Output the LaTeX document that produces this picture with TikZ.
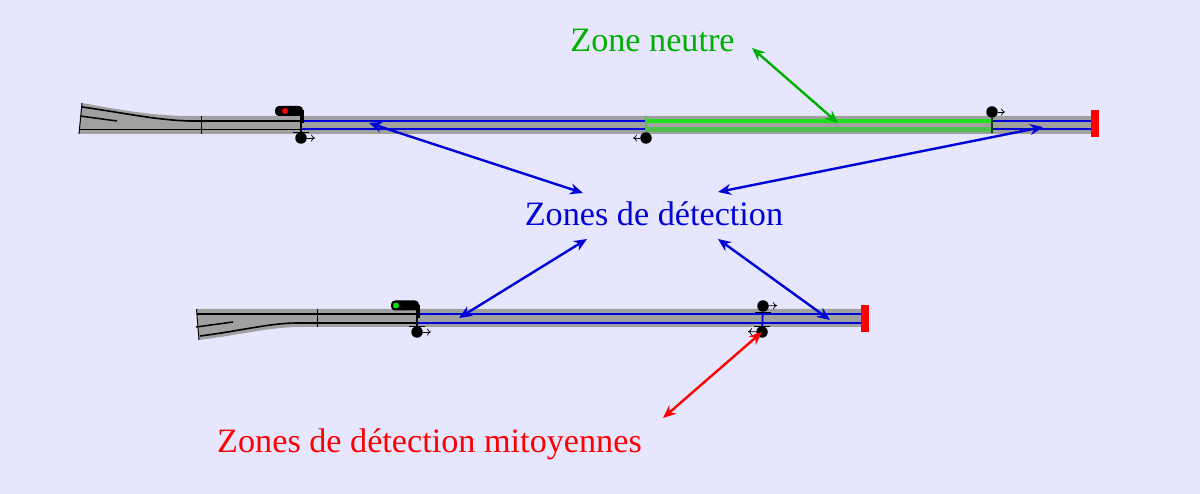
\documentclass[tikz,border=0pt]{standalone}
\usepackage{fontspec}
\setmainfont{Liberation Serif}
\usetikzlibrary{arrows.meta,positioning}
\definecolor{fond}{HTML}{E6E6FF}
\definecolor{ballast}{HTML}{A0A0A0}
\definecolor{vert}{HTML}{00B000}
\definecolor{rail}{HTML}{20E020}
\definecolor{railb}{HTML}{50C050}

\begin{document}
\begin{tikzpicture}[
    x=1pt, y=-1pt,
    label/.style={inner sep=0pt, font=\fontsize{34.2}{40}\selectfont},
    detector/.style={circle, fill=black, inner sep=0pt, minimum size=11.5pt},
    signalbox/.style={rectangle, fill=black, rounded corners=4pt, inner sep=0pt, minimum width=28pt, minimum height=10pt},
    lamp/.style={circle, inner sep=0pt, minimum size=6pt},
    bumper/.style={rectangle, fill=red, inner sep=0pt, minimum width=8pt, minimum height=27pt},
    sens/.style={-{To[length=4pt,width=7pt]}, line width=0.7pt},
    dettick/.style={line width=0.8pt},
    arrow/.style={{Stealth[length=13pt,width=11pt]}-{Stealth[length=13pt,width=11pt]}, line width=2.4pt},
    railblack/.style={black, line width=1.6pt},
    railblue/.style={blue!85!black, line width=2pt},
    railgreen/.style={rail, line width=3.5pt}
  ]

    \useasboundingbox[fill=fond] (0,0) rectangle (1200,494);

    % top track
    \fill[ballast] (82,103) .. controls (130,112) and (160,116) .. (190,116) -- (1092,116) -- (1092,134) -- (79,134) -- cycle;
    \draw[railblack] (82,107) .. controls (125,113) and (155,120) .. (190,121) -- (301,121);
    \draw[railblack] (79,129.5) -- (301,129.5);
    \draw[railblack, line width=1.5pt] (80,116) -- (117,121);
    \draw[railblack, line width=1pt] (82,103) -- (79,134);
    \draw[railblack, line width=1pt] (201,116) -- (201,134);
    \draw[railblue] (301,121) -- (646,121);
    \draw[railblue] (301,129.5) -- (646,129.5);
    \draw[railgreen] (646,121) -- (992,121);
    \draw[railb, line width=5pt] (646,129.5) -- (992,129.5);
    \draw[railblue] (992,121) -- (1092,121);
    \draw[railblue] (992,129.5) -- (1092,129.5);

    \node[bumper] (bumperA) at (1095,124) {};

    \node[signalbox] (sigA) at (289,111) {};
    \node[lamp, fill=red] (lampA) at (285,111) {};
    \node[detector] (detA) at (301,138) {};
    \node[detector] (detB) at (646,138) {};
    \node[detector] (detC) at (992,112) {};
    \coordinate (tipA) at (315,138);
    \coordinate (tipB) at (633,138);
    \coordinate (tipC) at (1005,112);

    \draw[black, line width=3.5pt] (302,110) -- (302,123);
    \draw[black, line width=1.2pt] (301,123) -- (detA.north);
    \draw[railb, line width=1.5pt] (646,116) -- (detB.north);
    \draw[black!70!rail, line width=1.2pt] (detC.south) -- (992,133);
    \draw[dettick] ([xshift=-8pt]detA.north) -- ([xshift=8pt]detA.north);
    \draw[sens] (detA) -- (tipA);
    \draw[sens] (detB) -- (tipB);
    \draw[sens] (detC) -- (tipC);

    % bottom track
    \fill[ballast] (199,340) .. controls (240,335) and (270,327) .. (300,327) -- (862,327) -- (862,309) -- (197,309) -- cycle;
    \draw[railblack] (197,314) -- (417,314);
    \draw[railblack] (200,336) .. controls (240,331) and (270,323) .. (297,323) -- (417,323);
    \draw[railblack, line width=1.5pt] (196,327) -- (233,322);
    \draw[railblack, line width=1pt] (196.5,309) -- (199,340);
    \draw[railblack, line width=1pt] (317.5,309) -- (317.5,327);
    \draw[railblue] (417,314) -- (862,314);
    \draw[railblue] (417,323) -- (862,323);

    \node[bumper] (bumperB) at (865,318.5) {};

    \node[signalbox] (sigB) at (405,305.5) {};
    \node[lamp, fill=green!90!black] (lampB) at (396,305.5) {};
    \node[detector] (detD) at (417,332) {};
    \node[detector] (detE) at (763,306) {};
    \node[detector] (detF) at (762,332) {};
    \coordinate (tipD) at (431,332);
    \coordinate (tipE) at (777,305.5);
    \coordinate (tipF) at (748,331.5);

    \draw[black, line width=3.5pt] (418,305) -- (418,318);
    \draw[black, line width=1.2pt] (417,318) -- (detD.north);
    \draw[railblue, line width=1.8pt] (detE) -- (detF);
    \draw[dettick] ([xshift=-8pt]detD.north) -- ([xshift=8pt]detD.north);
    \draw[dettick] ([xshift=-8pt]detE.south) -- ([xshift=8pt]detE.south);
    \draw[dettick] ([xshift=-8pt]detF.north) -- ([xshift=8pt]detF.north);
    \draw[sens] (detD) -- (tipD);
    \draw[sens] (detE) -- (tipE);
    \draw[sens] (detF) -- (tipF);

    % labels
    \node[label, text=vert] (neutre) at (652.5,40) {Zone neutre};
    \node[label, text=blue!85!black] (detection) at (654,214) {Zones de détection};
    \node[label, text=red] (mitoyennes) at (429.5,444) {Zones de détection mitoyennes};

    \coordinate (a1) at (752,48);
    \coordinate (a2) at (838,123);
    \coordinate (b1) at (583,193);
    \coordinate (b2) at (369,123);
    \coordinate (c1) at (718,192);
    \coordinate (c2) at (1043,127);
    \coordinate (d1) at (587,239);
    \coordinate (d2) at (459,318);
    \coordinate (e1) at (718,239);
    \coordinate (e2) at (830,320);
    \coordinate (f1) at (663,418);

    \draw[arrow, vert] (a1) -- (a2);
    \draw[arrow, blue!85!black] (b1) -- (b2);
    \draw[arrow, blue!85!black] (c1) -- (c2);
    \draw[arrow, blue!85!black] (d1) -- (d2);
    \draw[arrow, blue!85!black] (e1) -- (e2);
    \draw[arrow, red] (f1) -- (detF.center);

  \end{tikzpicture}
\end{document}
